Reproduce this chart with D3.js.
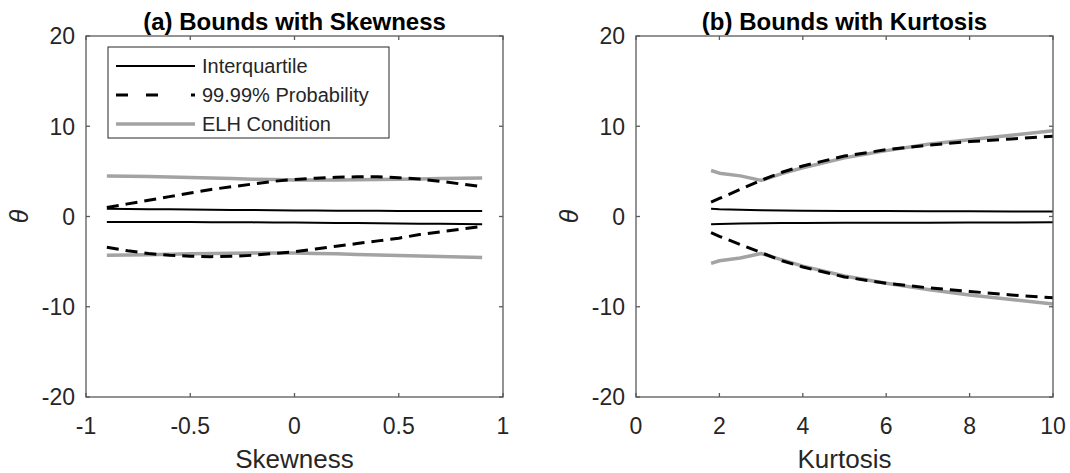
<!DOCTYPE html>
<html>
<head>
<meta charset="utf-8">
<script src="https://cdn.jsdelivr.net/npm/d3@7"></script>
<style>
  html, body { margin: 0; padding: 0; background: #fff; }
  svg { display: block; font-family: "Liberation Sans", Arial, sans-serif; }
</style>
</head>
<body>
<svg id="chart" width="1070" height="473"></svg>
<script>
// panel (a): skewness
const skewX = [-0.9, -0.8, -0.7, -0.6, -0.5, -0.4, -0.3, -0.2, -0.1, 0, 0.1, 0.2, 0.3, 0.4, 0.5, 0.6, 0.7, 0.8, 0.9];
const skewIqrUpper = [0.85, 0.83, 0.81, 0.79, 0.77, 0.75, 0.73, 0.71, 0.69, 0.67, 0.66, 0.65, 0.64, 0.63, 0.62, 0.61, 0.61, 0.6, 0.6];
const skewIqrLower = [-0.6, -0.6, -0.61, -0.61, -0.62, -0.63, -0.64, -0.65, -0.66, -0.67, -0.69, -0.71, -0.73, -0.75, -0.77, -0.79, -0.81, -0.83, -0.85];
const skewProbUpper = [1.0, 1.4, 1.8, 2.2, 2.6, 3.0, 3.3, 3.6, 3.9, 4.1, 4.25, 4.35, 4.4, 4.4, 4.3, 4.15, 3.9, 3.6, 3.3];
const skewProbLower = [-3.4, -3.8, -4.1, -4.3, -4.4, -4.45, -4.4, -4.3, -4.1, -3.9, -3.6, -3.3, -3.0, -2.7, -2.4, -2.0, -1.7, -1.4, -1.1];
const skewElhUpper = [4.5, 4.47, 4.43, 4.38, 4.32, 4.26, 4.2, 4.14, 4.09, 4.05, 4.04, 4.05, 4.07, 4.1, 4.13, 4.16, 4.2, 4.23, 4.27];
const skewElhLower = [-4.3, -4.27, -4.23, -4.18, -4.14, -4.1, -4.07, -4.05, -4.04, -4.05, -4.09, -4.14, -4.2, -4.26, -4.32, -4.38, -4.43, -4.5, -4.55];

// panel (b): kurtosis
const kurtX = [1.8, 2, 2.5, 3, 3.5, 4, 5, 6, 7, 8, 9, 10];
const kurtIqrUpper = [0.85, 0.8, 0.75, 0.7, 0.67, 0.65, 0.62, 0.6, 0.58, 0.57, 0.56, 0.55];
const kurtIqrLower = [-0.85, -0.82, -0.78, -0.75, -0.73, -0.72, -0.7, -0.69, -0.68, -0.67, -0.66, -0.65];
const kurtProbUpper = [1.6, 2.0, 3.0, 4.0, 4.9, 5.6, 6.7, 7.4, 7.9, 8.3, 8.6, 8.9];
const kurtProbLower = [-1.8, -2.2, -3.1, -4.0, -4.9, -5.6, -6.7, -7.4, -7.9, -8.3, -8.7, -9.0];
const kurtElhUpper = [5.1, 4.8, 4.5, 4.0, 4.75, 5.4, 6.5, 7.3, 8.0, 8.5, 9.0, 9.5];
const kurtElhLower = [-5.2, -4.9, -4.6, -4.1, -4.8, -5.5, -6.6, -7.4, -8.1, -8.7, -9.2, -9.7];

const yTicks = [-20, -10, 0, 10, 20];
const skewTicks = [-1, -0.5, 0, 0.5, 1];
const kurtTicks = [0, 2, 4, 6, 8, 10];

const legendLabels = ["Interquartile", "99.99% Probability", "ELH Condition"];

const TEXT_COLOR = "#262626";
const AXIS_COLOR = "#5a5a5a";
const GRAY = "#a3a3a3";

const svg = d3.select("#chart");

const panels = [
    {
        title: "(a) Bounds with Skewness",
        xLabel: "Skewness",
        left: 86,
        xDomain: [-1, 1],
        xTicks: skewTicks,
        xs: skewX,
        series: [skewIqrUpper, skewIqrLower, skewProbUpper, skewProbLower, skewElhUpper, skewElhLower],
        legend: true
    },
    {
        title: "(b) Bounds with Kurtosis",
        xLabel: "Kurtosis",
        left: 636,
        xDomain: [0, 10],
        xTicks: kurtTicks,
        xs: kurtX,
        series: [kurtIqrUpper, kurtIqrLower, kurtProbUpper, kurtProbLower, kurtElhUpper, kurtElhLower],
        legend: false
    }
];

const plotWidth = 417;
const plotTop = 36;
const plotBottom = 397;
const tickLen = 4;

const styles = [
    { stroke: "#000", width: 2, dash: null },
    { stroke: "#000", width: 2, dash: null },
    { stroke: "#000", width: 3, dash: "12,7" },
    { stroke: "#000", width: 3, dash: "12,7" },
    { stroke: GRAY, width: 3.5, dash: null },
    { stroke: GRAY, width: 3.5, dash: null }
];

panels.forEach((panel) => {
    const x = d3.scaleLinear().domain(panel.xDomain).range([panel.left, panel.left + plotWidth]);
    const y = d3.scaleLinear().domain([-20, 20]).range([plotBottom, plotTop]);
    const g = svg.append("g");

    // data lines, drawn in order: ELH underneath, then dashed, then solid
    const order = [4, 5, 2, 3, 0, 1];
    order.forEach((i) => {
        const values = panel.series[i];
        const line = d3.line()
            .x((d, j) => x(panel.xs[j]))
            .y((d) => y(d));
        g.append("path")
            .datum(values)
            .attr("d", line)
            .attr("fill", "none")
            .attr("stroke", styles[i].stroke)
            .attr("stroke-width", styles[i].width)
            .attr("stroke-dasharray", styles[i].dash)
            .attr("stroke-linejoin", "round");
    });

    // box
    g.append("rect")
        .attr("x", x.range()[0])
        .attr("y", plotTop)
        .attr("width", plotWidth)
        .attr("height", plotBottom - plotTop)
        .attr("fill", "none")
        .attr("stroke", AXIS_COLOR)
        .attr("stroke-width", 1.3);

    // x ticks (inward, top and bottom)
    panel.xTicks.forEach((t) => {
        const px = x(t);
        g.append("line").attr("x1", px).attr("x2", px).attr("y1", plotBottom).attr("y2", plotBottom - tickLen)
            .attr("stroke", AXIS_COLOR).attr("stroke-width", 1.3);
        g.append("line").attr("x1", px).attr("x2", px).attr("y1", plotTop).attr("y2", plotTop + tickLen)
            .attr("stroke", AXIS_COLOR).attr("stroke-width", 1.3);
        g.append("text")
            .attr("x", px)
            .attr("y", plotBottom + 37)
            .attr("text-anchor", "middle")
            .attr("font-size", 23)
            .attr("fill", TEXT_COLOR)
            .text(t);
    });

    // y ticks (inward, left and right)
    yTicks.forEach((t) => {
        const py = y(t);
        g.append("line").attr("x1", x.range()[0]).attr("x2", x.range()[0] + tickLen).attr("y1", py).attr("y2", py)
            .attr("stroke", AXIS_COLOR).attr("stroke-width", 1.3);
        g.append("line").attr("x1", x.range()[1]).attr("x2", x.range()[1] - tickLen).attr("y1", py).attr("y2", py)
            .attr("stroke", AXIS_COLOR).attr("stroke-width", 1.3);
        g.append("text")
            .attr("x", x.range()[0] - 11)
            .attr("y", py)
            .attr("dy", "0.36em")
            .attr("text-anchor", "end")
            .attr("font-size", 23)
            .attr("fill", TEXT_COLOR)
            .text(t);
    });

    const cx = (x.range()[0] + x.range()[1]) / 2;

    g.append("text")
        .attr("x", cx)
        .attr("y", 30)
        .attr("text-anchor", "middle")
        .attr("font-size", 24)
        .attr("font-weight", "bold")
        .attr("fill", "#000")
        .text(panel.title);

    g.append("text")
        .attr("x", cx)
        .attr("y", 468)
        .attr("text-anchor", "middle")
        .attr("font-size", 26)
        .attr("fill", TEXT_COLOR)
        .text(panel.xLabel);

    g.append("text")
        .attr("transform", `translate(${x.range()[0] - 58}, ${y(0)}) rotate(-90)`)
        .attr("text-anchor", "middle")
        .attr("font-size", 25)
        .attr("font-style", "italic")
        .attr("fill", TEXT_COLOR)
        .text("θ");

    if (panel.legend) {
        const lx = 108;
        const ly = 47;
        const legend = g.append("g");
        legend.append("rect")
            .attr("x", lx)
            .attr("y", ly)
            .attr("width", 281)
            .attr("height", 91)
            .attr("fill", "#fff")
            .attr("stroke", TEXT_COLOR)
            .attr("stroke-width", 1);

        const legendStyles = [
            { stroke: "#000", width: 2, dash: null },
            { stroke: "#000", width: 3, dash: "12,18,12,33,4,100" },
            { stroke: GRAY, width: 3.5, dash: null }
        ];

        legendLabels.forEach((label, i) => {
            const rowY = ly + 19 + i * 29;
            legend.append("line")
                .attr("x1", lx + 8)
                .attr("x2", lx + 87)
                .attr("y1", rowY)
                .attr("y2", rowY)
                .attr("stroke", legendStyles[i].stroke)
                .attr("stroke-width", legendStyles[i].width)
                .attr("stroke-dasharray", legendStyles[i].dash);
            legend.append("text")
                .attr("x", lx + 94)
                .attr("y", rowY)
                .attr("dy", "0.36em")
                .attr("font-size", 20)
                .attr("fill", TEXT_COLOR)
                .text(label);
        });
    }
});
</script>
</body>
</html>
